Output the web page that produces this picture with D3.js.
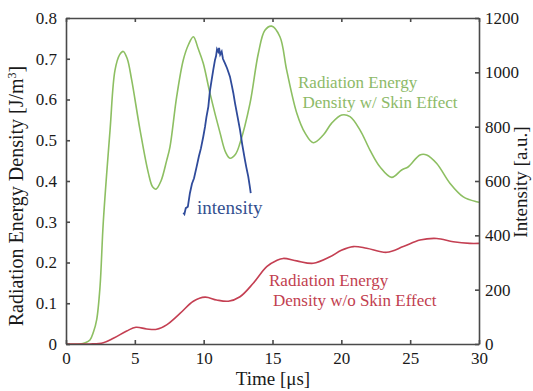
<!DOCTYPE html>
<html><head><meta charset="utf-8">
<script src="https://cdn.jsdelivr.net/npm/d3@7"></script>
<style>body{margin:0;background:#fff}svg{display:block}text{font-family:"Liberation Serif","Times New Roman",Tinos,serif !important}</style>
</head><body><svg id="c" width="533" height="391"></svg>
<script>
// Radiation energy density with skin effect [J/m^3]
const tWith = [0,1.0,1.4,1.74,2.0,2.23,2.47,2.71,3.2,3.56,3.9,4.16,4.45,4.77,5.38,5.98,6.3,6.54,6.9,7.31,7.55,8.04,8.52,8.9,9.25,9.6,9.97,10.46,11.19,11.6,11.91,12.3,12.64,13.37,13.97,14.45,14.94,15.54,16.03,16.76,17.36,17.96,18.69,19.3,20.03,20.63,21.36,22.08,22.8,23.66,24.38,24.87,25.71,26.2,26.93,27.9,28.86,29.83,30];
const vWith = [0,0,0.003,0.01,0.03,0.06,0.14,0.30,0.525,0.672,0.71,0.718,0.70,0.648,0.525,0.42,0.385,0.38,0.40,0.45,0.483,0.607,0.697,0.735,0.754,0.725,0.689,0.615,0.518,0.47,0.456,0.465,0.493,0.591,0.713,0.77,0.78,0.754,0.672,0.567,0.518,0.494,0.513,0.542,0.562,0.558,0.525,0.476,0.435,0.409,0.427,0.435,0.464,0.464,0.443,0.394,0.361,0.349,0.348];
// Radiation energy density without skin effect [J/m^3]
const tWo = [0,1.74,2.71,3.44,4.41,5.08,5.86,6.59,7.31,8.28,9.25,10.1,10.94,11.79,12.64,13.6,14.58,15.3,15.78,16.76,17.96,19.18,20.0,20.87,21.84,23.3,24.5,25.71,26.93,28.13,29.34,30];
const vWo = [0,0,0.003,0.014,0.032,0.041,0.037,0.036,0.047,0.075,0.105,0.115,0.108,0.105,0.116,0.149,0.19,0.205,0.21,0.204,0.198,0.214,0.23,0.239,0.235,0.225,0.239,0.255,0.259,0.251,0.247,0.247];
// Intensity [a.u.]
const tInt = [8.52,8.6,8.7,8.85,9.0,9.15,9.3,9.49,9.65,9.8,9.97,10.1,10.2,10.34,10.45,10.58,10.7,10.82,10.9,10.97,11.06,11.12,11.2,11.31,11.4,11.55,11.7,11.8,11.91,12.05,12.15,12.28,12.45,12.64,12.8,13.0,13.1,13.24,13.35,13.42];
const vInt = [483,478,500,505,555,590,610,653,690,720,763,800,835,874,930,972,1010,1045,1060,1085,1076,1090,1065,1076,1050,1033,1015,1000,984,950,925,886,840,788,735,677,650,616,580,555];

const xTicks = [0,5,10,15,20,25,30];
const yTicks = [0,0.1,0.2,0.3,0.4,0.5,0.6,0.7,0.8];
const y2Ticks = [0,200,400,600,800,1000,1200];

const L=66,T=18,R=479,B=344;
const svg=d3.select("#c");
const x=d3.scaleLinear().domain([0,30]).range([L,R]);
const y=d3.scaleLinear().domain([0,0.8]).range([B,T]);
const y2=d3.scaleLinear().domain([0,1200]).range([B,T]);
const axisCol="#4a4a4a";
const fs=17;

const line=(xs,ys,sc,curve)=>d3.line().x((d,i)=>x(xs[i])).y((d,i)=>sc(ys[i])).curve(curve)(ys);
svg.append("path").attr("d",line(tWith,vWith,y,d3.curveCatmullRom)).attr("fill","none").attr("stroke","#8dbf62").attr("stroke-width",1.6);
svg.append("path").attr("d",line(tWo,vWo,y,d3.curveCatmullRom)).attr("fill","none").attr("stroke","#c43f52").attr("stroke-width",1.6);
svg.append("path").attr("d",line(tInt,vInt,y2,d3.curveLinear)).attr("fill","none").attr("stroke","#2f4b9b").attr("stroke-width",1.8);

function style(g){g.selectAll(".domain,line").attr("stroke",axisCol).attr("stroke-width",1.6);
 g.selectAll("text").attr("font-size",fs).attr("fill","#1a1a1a");}
const gl=svg.append("g").attr("transform",`translate(${L},0)`).call(d3.axisLeft(y).tickValues(yTicks).tickFormat(d=>d===0?"0":d3.format(".1f")(d)).tickSizeInner(-4).tickSizeOuter(0).tickPadding(9));style(gl);
const gb=svg.append("g").attr("transform",`translate(0,${B})`).call(d3.axisBottom(x).tickValues(xTicks).tickFormat(d3.format("d")).tickSizeInner(-4).tickSizeOuter(0).tickPadding(8));style(gb);
const gr=svg.append("g").attr("transform",`translate(${R},0)`).call(d3.axisRight(y2).tickValues(y2Ticks).tickFormat(d3.format("d")).tickSizeInner(-4).tickSizeOuter(0).tickPadding(6));style(gr);
const gt=svg.append("g").attr("transform",`translate(0,${T})`).call(d3.axisTop(x).tickValues(xTicks).tickFormat("").tickSizeInner(-4).tickSizeOuter(0));style(gt);

svg.append("text").attr("x",273).attr("y",385).attr("text-anchor","middle").attr("font-size",19).attr("fill","#1a1a1a").text("Time [μs]");
const lt=svg.append("text").attr("transform","translate(23,196) rotate(-90)").attr("text-anchor","middle").attr("font-size",20).attr("fill","#1a1a1a");
lt.append("tspan").text("Radiation Energy Density [J/m");
lt.append("tspan").attr("font-size",12).attr("dy",-7).text("3");
lt.append("tspan").attr("dy",7).text("]");
svg.append("text").attr("transform","translate(527,182) rotate(-90)").attr("text-anchor","middle").attr("font-size",19).attr("fill","#1a1a1a").text("Intensity [a.u.]");

const ann=(xx,yy,t,c,s)=>svg.append("text").attr("x",xx).attr("y",yy).attr("font-size",s).attr("fill",c).text(t);
ann(298,87.5,"Radiation Energy","#8dba68",17);
ann(302.5,107.5,"Density w/ Skin Effect","#8dba68",17);
ann(269,285.5,"Radiation Energy","#c2404f",17);
ann(273,305.5,"Density w/o Skin Effect","#c2404f",17);
ann(197,214,"intensity","#34508f",19);
</script></body></html>
